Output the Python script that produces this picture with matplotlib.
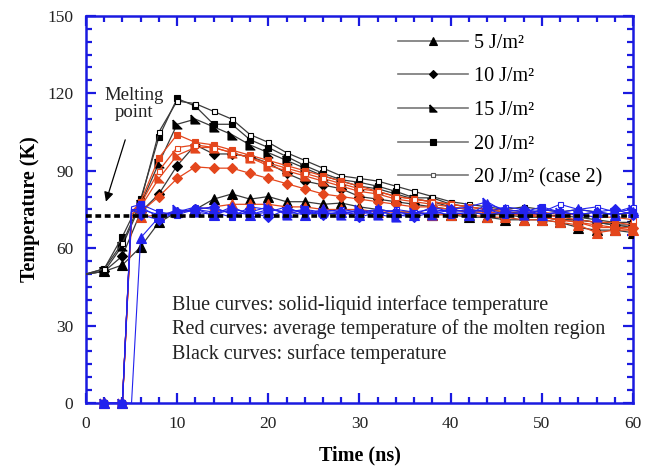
import matplotlib
matplotlib.use("Agg")
import matplotlib.pyplot as plt
from matplotlib.lines import Line2D

plt.rcParams['font.family'] = ['Liberation Serif', 'DejaVu Serif']

# time grids (ns)
t_surf = [0, 2, 4, 6, 8, 10, 12, 14, 16, 18, 20, 22, 24, 26, 28, 30,
          32, 34, 36, 38, 40, 42, 44, 46, 48, 50, 52, 54, 56, 58, 60]
t_melt = [2, 4, 5, 6, 8, 10, 12, 14, 16, 18, 20, 22, 24, 26, 28, 30,
          32, 34, 36, 38, 40, 42, 44, 46, 48, 50, 52, 54, 56, 58, 60]

labels = ["5 J/m²", "10 J/m²", "15 J/m²", "20 J/m²", "20 J/m² (case 2)"]

# black: surface temperature
black_5 = [50, 51, 53.5, 60.5, 70, 74, 75, 79, 81, 79, 80, 78, 78, 77, 77.5, 76,
           75, 74, 74, 73, 73, 72, 72, 71, 71, 71, 70, 68, 67, 67, 66]
black_10 = [50, 51, 57, 74, 81, 92, 100, 96.5, 96.5, 95.5, 93, 89, 86, 84.5, 83, 80,
            79, 78, 77, 76, 75, 74, 73, 73, 72, 72, 71, 71, 70, 69, 68]
black_15 = [50, 51, 61, 77, 93, 108, 110, 107, 104, 100, 97, 94, 91, 88, 86, 84,
            83, 81, 79, 78, 76, 75, 74, 73, 73, 72, 71, 71, 70, 69, 69]
black_20 = [50, 52, 64.5, 79, 103, 118, 115, 108, 108, 102, 99, 95.5, 92, 89, 86.5, 85.5,
            84, 82, 79.5, 79.5, 77, 76, 75, 74, 73.5, 73, 72.5, 72, 71, 70, 70]
black_c2 = [50, 52, 62, 78, 105, 117, 116, 113, 110, 104, 101, 97, 94, 91, 88, 87,
            86, 84, 82, 80, 78, 77, 76, 75, 76, 75, 74, 75, 74, 73, 74]

# red: average temperature of the molten region
red_5 = [0, 0, 72, 72, 73, 74, 75, 76, 77, 77, 77, 76, 76, 75, 75, 75,
         74, 74, 74, 73, 73, 73, 72, 72, 71, 71, 70, 69, 66, 67, 67]
red_10 = [0, 0, 72, 74, 80, 87, 91.5, 91, 91, 89, 87, 85, 83, 81, 80, 79,
          78, 77, 76, 76, 75, 74, 74, 73, 73, 72, 71, 70, 69, 68, 68]
red_15 = [0, 0, 73, 76, 87, 96, 99, 99, 97, 95, 92, 90, 88, 86, 84, 82,
          81, 79, 78, 77, 76, 75, 74, 73, 73, 72, 71, 70, 68, 68, 67]
red_20 = [0, 0, 74, 78, 95, 104, 101, 100, 98, 96, 94, 92, 90, 88, 86, 84,
          82, 80, 79, 78, 77, 76, 75, 74, 73, 73, 72, 71, 70, 70, 69]
red_c2 = [0, 0, 74, 77, 90, 99, 100, 99, 97, 95, 93, 91, 89, 87, 85, 83,
          82, 80, 79, 78, 77, 76, 75, 75, 74, 74, 73, 73, 72, 72, 71]

# blue: solid-liquid interface temperature
blue_5 = [0, 0, 0, 64, 72, 74, 75, 73, 76, 73, 75, 74, 73, 75, 74, 73,
          75, 74, 73, 76, 74, 73, 77, 75, 74, 73, 74, 75, 74, 73, 74]
blue_10 = [0, 0, 75, 73, 71, 74, 75, 76, 73, 74, 72, 75, 74, 73, 74, 72,
           74, 73, 72, 74, 75, 74, 73, 74, 75, 73, 74, 73, 74, 75, 73]
blue_15 = [0, 0, 74, 76, 72, 75, 74, 73, 75, 74, 76, 73, 75, 74, 73, 75,
           73, 72, 74, 73, 75, 76, 78, 74, 73, 75, 74, 73, 72, 74, 75]
blue_20 = [0, 0, 76, 77, 74, 73, 75, 74, 72, 76, 75, 74, 75, 73, 74, 74,
           75, 74, 73, 74, 73, 74, 75, 73, 74, 76, 74, 73, 74, 73, 74]
blue_c2 = [0, 0, 75, 75, 73, 74, 76, 75, 74, 73, 74, 76, 73, 74, 75, 74,
           73, 75, 74, 75, 74, 75, 74, 76, 75, 74, 77, 75, 76, 74, 76]

melting_point = 72.5

tri_ll = [(-1, 1), (-1, -1), (1, -1), (-1, 1)]
markers = ['^', 'D', tri_ll, 's', 's']
msizes = [6.5, 5, 6.5, 5, 3.6]
filled = [True, True, True, True, False]

BLK_LINE = '#3a3a3a'
RED = '#e4461c'
BLUE = '#2222ee'
AXBLUE = '#1a1ae0'

fig = plt.figure(figsize=(6.56, 4.66), dpi=100)
ax = fig.add_axes([0.131, 0.135, 0.834, 0.831])

surf = [black_5, black_10, black_15, black_20, black_c2]
melt_red = [red_5, red_10, red_15, red_20, red_c2]
melt_blue = [blue_5, blue_10, blue_15, blue_20, blue_c2]

even_idx = [i for i, t in enumerate(t_melt) if t % 2 == 0]

for i in range(5):
    fc = 'k' if filled[i] else 'white'
    ax.plot(t_surf, surf[i], color=BLK_LINE, lw=0.9, marker=markers[i], ms=msizes[i],
            mfc=fc, mec='k', mew=0.8, markevery=list(range(1, len(t_surf))), zorder=3)
for i in range(5):
    fc = RED if filled[i] else 'white'
    ax.plot(t_melt, melt_red[i], color=RED, lw=0.9, marker=markers[i], ms=msizes[i],
            mfc=fc, mec=RED, mew=0.8, markevery=even_idx, zorder=4, clip_on=False)
# draw 5 J/m2 last so its triangles sit on top
for i in reversed(range(5)):
    fc = BLUE if filled[i] else 'white'
    ax.plot(t_melt, melt_blue[i], color=BLUE, lw=0.8, marker=markers[i], ms=msizes[i],
            mfc=fc, mec=BLUE, mew=0.8, markevery=even_idx, zorder=5, clip_on=False)

ax.axhline(melting_point, color='k', lw=2.6, ls=(0, (1.6, 1.0)), zorder=6)

ax.set_xlim(0, 60)
ax.set_ylim(0, 150)
ax.set_xticks(range(0, 61, 10))
ax.set_yticks(range(0, 151, 30))
ax.set_xticks(range(0, 61, 2), minor=True)
ax.set_yticks(range(0, 151, 5), minor=True)
ax.tick_params(which='both', direction='in', top=True, right=True, color=AXBLUE,
               labelsize=12.5, labelcolor='#222222')
ax.tick_params(which='major', length=7.5, width=1.6, pad=9)
ax.tick_params(which='minor', length=4.5, width=1.6)
for s in ax.spines.values():
    s.set_color(AXBLUE)
    s.set_linewidth(1.8)

ax.set_xlabel('Time (ns)', fontsize=14.5, fontweight='bold', labelpad=10)
ax.set_ylabel('Temperature (K)', fontsize=14.5, fontweight='bold', labelpad=5)

handles = []
for i in range(5):
    handles.append(Line2D([], [], color='#777777', lw=1.2, marker=markers[i],
                          ms=msizes[i] * 0.8, mfc='k' if filled[i] else 'white',
                          mec='k' if filled[i] else '#555555', mew=0.8))
leg = ax.legend(handles, labels, loc='upper right', bbox_to_anchor=(0.966, 0.985),
                frameon=False, fontsize=14.5, handlelength=3.5, handletextpad=0.3,
                labelspacing=0.72, borderaxespad=0.2)

ax.text(5.3, 116, 'Melting\npoint', ha='center', va='center', fontsize=13.5,
        linespacing=1.0, color='#222222')
ax.annotate('', xy=(2.1, 77), xytext=(4.4, 103),
            arrowprops=dict(arrowstyle='-|>', color='k', lw=0.9, mutation_scale=14))

ax.text(9.4, 28.5, 'Blue curves: solid-liquid interface temperature\n'
        'Red curves: average temperature of the molten region\n'
        'Black curves: surface temperature',
        ha='left', va='center', fontsize=14.5, linespacing=1.28, color='#222222')

fig.savefig('out.png', dpi=100)
